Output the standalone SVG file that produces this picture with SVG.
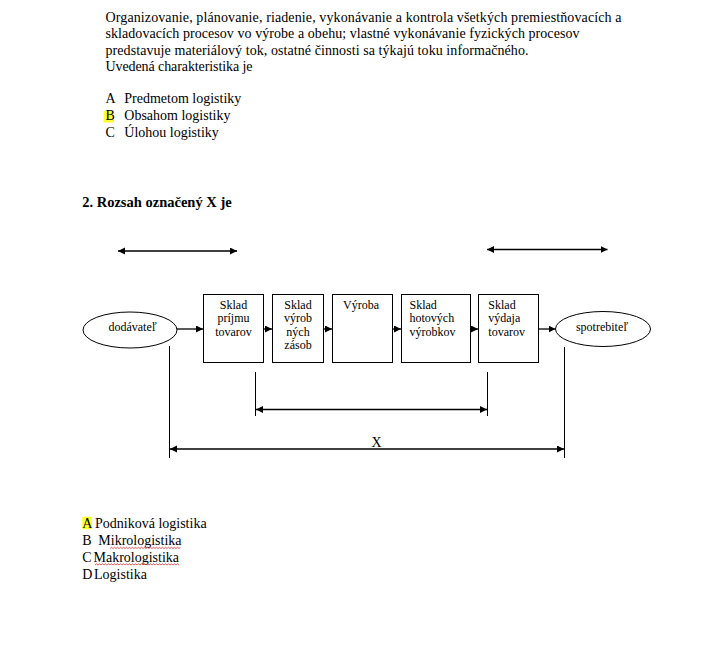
<svg xmlns="http://www.w3.org/2000/svg" width="704" height="659" viewBox="0 0 704 659">
<style>
text{font-family:"Liberation Serif","Times New Roman",serif;fill:#000}
.p{font-size:14px}
.b{font-size:12px}
.bc{text-anchor:middle}
.h{font-size:14.5px;font-weight:bold}
.box{fill:#fff;stroke:#000;stroke-width:1}
.ln{stroke:#000;stroke-width:1.3;fill:none}
.vl{stroke:#000;stroke-width:1;fill:none}
.hl{fill:#ffff33}
.sq{stroke:#e03030;stroke-width:0.8;fill:none}
</style>
<defs>
<marker id="ah" markerUnits="userSpaceOnUse" markerWidth="8" markerHeight="8" refX="7" refY="3.5" orient="auto-start-reverse">
<path d="M0,0 L7,3.5 L0,7 z" fill="#000"/>
</marker>
</defs>
<rect width="704" height="659" fill="#fff"/>

<g id="question1">
<text class="p" x="105.5" y="21.5" textLength="516" lengthAdjust="spacing">Organizovanie, plánovanie, riadenie, vykonávanie a kontrola všetkých premiestňovacích a</text>
<text class="p" x="105.5" y="38" textLength="474" lengthAdjust="spacing">skladovacích procesov vo výrobe a obehu; vlastné vykonávanie fyzických procesov</text>
<text class="p" x="105.5" y="54.5" textLength="423" lengthAdjust="spacing">predstavuje materiálový tok, ostatné činnosti sa týkajú toku informačného.</text>
<text class="p" x="105.5" y="71" textLength="147" lengthAdjust="spacing">Uvedená charakteristika je</text>
<rect class="hl" x="103.5" y="111" width="10.5" height="11.5"/>
<text class="p" x="105.5" y="103">A</text>
<text class="p" x="124.3" y="103">Predmetom logistiky</text>
<text class="p" x="105.5" y="120">B</text>
<text class="p" x="124.3" y="120">Obsahom logistiky</text>
<text class="p" x="105.5" y="136.7">C</text>
<text class="p" x="124.3" y="136.7">Úlohou logistiky</text>
</g>

<g id="question2-title">
<text class="h" x="82.3" y="207.3">2.</text>
<text class="h" x="96.7" y="207.3" textLength="135" lengthAdjust="spacing">Rozsah označený X je</text>
</g>

<g id="connectors">
<line class="ln" x1="118" y1="251" x2="237" y2="251" marker-start="url(#ah)" marker-end="url(#ah)"/>
<line class="ln" x1="487" y1="249.5" x2="607.5" y2="249.5" marker-start="url(#ah)" marker-end="url(#ah)"/>
<line class="ln" x1="177" y1="329" x2="203" y2="329" marker-end="url(#ah)"/>
<line class="ln" x1="263.5" y1="329" x2="272" y2="329" marker-end="url(#ah)"/>
<line class="ln" x1="323.5" y1="329" x2="332" y2="329" marker-end="url(#ah)"/>
<line class="ln" x1="392.5" y1="329" x2="401" y2="329" marker-end="url(#ah)"/>
<line class="ln" x1="470.5" y1="329" x2="478" y2="329" marker-end="url(#ah)"/>
<line class="ln" x1="538.5" y1="329" x2="555.5" y2="329" marker-end="url(#ah)"/>
<line class="vl" x1="169.5" y1="346" x2="169.5" y2="458"/>
<line class="vl" x1="564.5" y1="347" x2="564.5" y2="458"/>
<line class="vl" x1="255.5" y1="372" x2="255.5" y2="416"/>
<line class="vl" x1="487.5" y1="372" x2="487.5" y2="416"/>
<line class="ln" x1="256" y1="409.5" x2="487" y2="409.5" marker-start="url(#ah)" marker-end="url(#ah)"/>
<line class="ln" x1="170" y1="449" x2="564" y2="449" marker-start="url(#ah)" marker-end="url(#ah)"/>
<text class="p bc" x="376.5" y="446.7">X</text>
</g>

<g id="dodavatel">
<ellipse class="box" cx="130" cy="330" rx="47" ry="18"/>
<text class="b bc" x="132.5" y="331">dodávateľ</text>
</g>
<g id="sklad-prijmu">
<rect class="box" x="203.5" y="294.5" width="60" height="68"/>
<text class="b bc" x="233.5" y="308.7">Sklad</text>
<text class="b bc" x="233.5" y="322.2">príjmu</text>
<text class="b bc" x="233.5" y="335.7">tovarov</text>
</g>
<g id="sklad-vyrobnych-zasob">
<rect class="box" x="272.5" y="294.5" width="51" height="68"/>
<text class="b bc" x="298" y="308.7">Sklad</text>
<text class="b bc" x="298" y="322.2">výrob</text>
<text class="b bc" x="298" y="335.7">ných</text>
<text class="b bc" x="298" y="349.2">zásob</text>
</g>
<g id="vyroba">
<rect class="box" x="332.5" y="294.5" width="60" height="68"/>
<text class="b bc" x="361" y="308.7">Výroba</text>
</g>
<g id="sklad-hotovych-vyrobkov">
<rect class="box" x="401.5" y="294.5" width="69" height="68"/>
<text class="b" x="409.5" y="308.7">Sklad</text>
<text class="b" x="409.5" y="322.2">hotových</text>
<text class="b" x="409.5" y="335.7">výrobkov</text>
</g>
<g id="sklad-vydaja-tovarov">
<rect class="box" x="478.5" y="294.5" width="60" height="68"/>
<text class="b" x="488.3" y="308.7">Sklad</text>
<text class="b" x="488.3" y="322.2">výdaja</text>
<text class="b" x="488.3" y="335.7">tovarov</text>
</g>
<g id="spotrebitel">
<ellipse class="box" cx="603" cy="329" rx="47.5" ry="17.5"/>
<text class="b bc" x="602" y="331">spotrebiteľ</text>
</g>

<g id="answers2">
<rect class="hl" x="82.3" y="516.7" width="9.5" height="12.6"/>
<text class="p" x="82.3" y="528.3">A</text>
<text class="p" x="95" y="528.3">Podniková logistika</text>
<text class="p" x="82.3" y="545.3">B</text>
<text class="p" x="98.3" y="545.3">Mikrologistika</text>
<text class="p" x="82.3" y="562">C</text>
<text class="p" x="93.5" y="562">Makrologistika</text>
<text class="p" x="82.3" y="578.5">D</text>
<text class="p" x="94" y="578.5">Logistika</text>
<path class="sq" d="M110,548.5 l1.5,-1.2 l1.5,1.2 l1.5,-1.2 l1.5,1.2 l1.5,-1.2 l1.5,1.2 l1.5,-1.2 l1.5,1.2 l1.5,-1.2 l1.5,1.2 l1.5,-1.2 l1.5,1.2 l1.5,-1.2 l1.5,1.2 l1.5,-1.2 l1.5,1.2 l1.5,-1.2 l1.5,1.2 l1.5,-1.2 l1.5,1.2 l1.5,-1.2 l1.5,1.2 l1.5,-1.2 l1.5,1.2 l1.5,-1.2 l1.5,1.2 l1.5,-1.2 l1.5,1.2 l1.5,-1.2 l1.5,1.2 l1.5,-1.2 l1.5,1.2 l1.5,-1.2 l1.5,1.2 l1.5,-1.2 l1.5,1.2 l1.5,-1.2 l1.5,1.2 l1.5,-1.2 l1.5,1.2 l1.5,-1.2 l1.5,1.2 l1.5,-1.2 l1.5,1.2 l1.5,-1.2 l1.5,1.2 l1.5,-1.2"/>
<path class="sq" d="M95,565 l1.5,-1.2 l1.5,1.2 l1.5,-1.2 l1.5,1.2 l1.5,-1.2 l1.5,1.2 l1.5,-1.2 l1.5,1.2 l1.5,-1.2 l1.5,1.2 l1.5,-1.2 l1.5,1.2 l1.5,-1.2 l1.5,1.2 l1.5,-1.2 l1.5,1.2 l1.5,-1.2 l1.5,1.2 l1.5,-1.2 l1.5,1.2 l1.5,-1.2 l1.5,1.2 l1.5,-1.2 l1.5,1.2 l1.5,-1.2 l1.5,1.2 l1.5,-1.2 l1.5,1.2 l1.5,-1.2 l1.5,1.2 l1.5,-1.2 l1.5,1.2 l1.5,-1.2 l1.5,1.2 l1.5,-1.2 l1.5,1.2 l1.5,-1.2 l1.5,1.2 l1.5,-1.2 l1.5,1.2 l1.5,-1.2 l1.5,1.2 l1.5,-1.2 l1.5,1.2 l1.5,-1.2 l1.5,1.2 l1.5,-1.2 l1.5,1.2 l1.5,-1.2 l1.5,1.2 l1.5,-1.2 l1.5,1.2 l1.5,-1.2 l1.5,1.2 l1.5,-1.2 l1.5,1.2"/>
</g>
</svg>
